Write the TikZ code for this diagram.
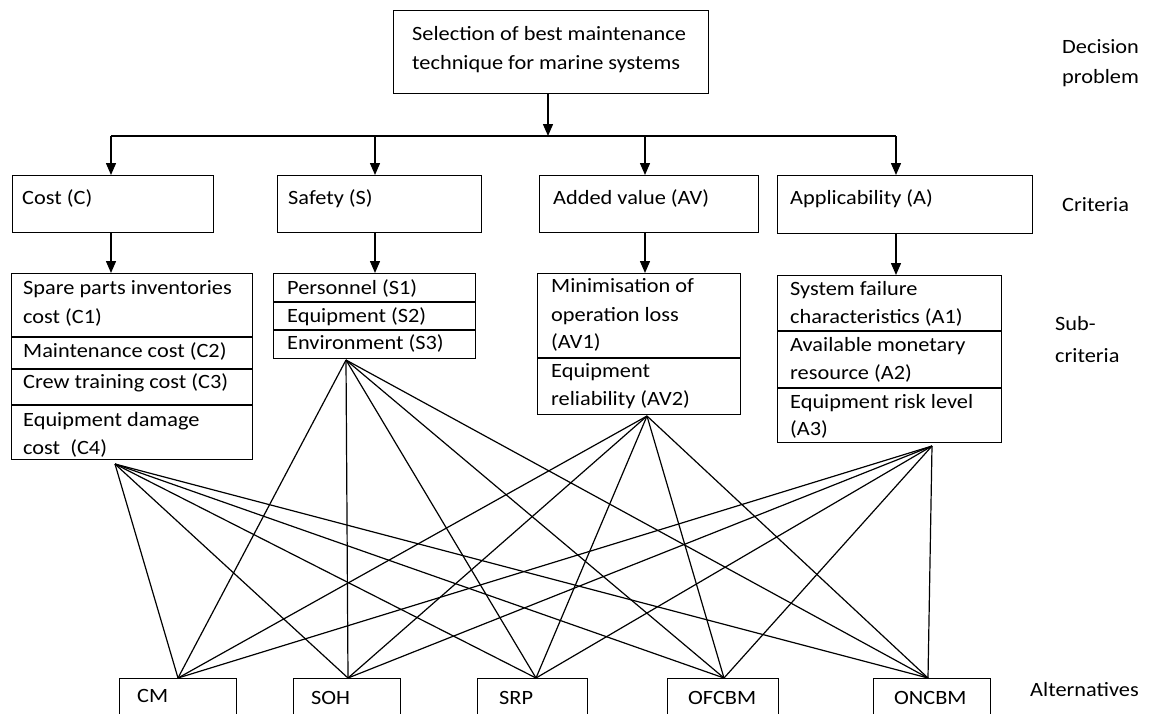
\documentclass[tikz,border=0pt]{standalone}
\usepackage{fontspec}
\setmainfont{Carlito}[FakeStretch=1.1]
\usetikzlibrary{arrows.meta,calc}
\tikzset{
  box/.style={draw=black, line width=1.4pt, fill=none, inner sep=0pt, anchor=north west},
  txt/.style={anchor=base west, inner sep=0pt, font=\fontsize{20.3}{29}\selectfont},
  arr/.style={draw=black, line width=1.4pt, -{Triangle[width=10pt,length=12pt]}},
  link/.style={draw=black, line width=1.2pt},
  div/.style={draw=black, line width=1.4pt}
}
\begin{document}
\begin{tikzpicture}[x=1pt,y=-1pt]
\useasboundingbox (0,0) rectangle (1170,713);
\clip (0,0) rectangle (1170,713);
% ---------- top ----------
\node[box, minimum width=315pt, minimum height=83pt] (top) at (393,10) {};
\node[txt] (t1) at (412,40) {Selection of best maintenance};
\node[txt] (t2) at (412,69) {technique for marine systems};
% ---------- criteria ----------
\node[box, minimum width=201pt, minimum height=57pt] (cost) at (12,175) {};
\node[box, minimum width=204pt, minimum height=57pt] (safe) at (277,175) {};
\node[box, minimum width=219pt, minimum height=57pt] (addv) at (539,175) {};
\node[box, minimum width=255pt, minimum height=58pt] (appl) at (777,175) {};
\node[txt] (costT) at (22,204) {Cost (C)};
\node[txt] (safeT) at (288,204) {Safety (S)};
\node[txt] (addvT) at (553,204) {Added value (AV)};
\node[txt] (applT) at (790,204) {Applicability (A)};
% junctions
\coordinate (j0) at (548,136);
\coordinate (jC) at (111,136);
\coordinate (jS) at (375,136);
\coordinate (jV) at (645,136);
\coordinate (jA) at (896,136);
\draw[arr] (top.south -| j0) -- (j0);
\draw[link, line width=1.4pt] (jC) -- (jA);
\draw[arr] (jC) -- (jC |- cost.north);
\draw[arr] (jS) -- (jS |- safe.north);
\draw[arr] (jV) -- (jV |- addv.north);
\draw[arr] (jA) -- (jA |- appl.north);
% ---------- sub-criteria ----------
\node[box, minimum width=241pt, minimum height=186pt] (costS) at (11,273) {};
\draw[div] (11,337) -- (252,337);
\draw[div] (11,369) -- (252,369);
\draw[div] (11,405) -- (252,405);
\node[box, minimum width=202pt, minimum height=85pt] (safeS) at (273,273) {};
\draw[div] (273,302) -- (475,302);
\draw[div] (273,330) -- (475,330);
\node[box, minimum width=203pt, minimum height=141pt] (addvS) at (537,273) {};
\draw[div] (537,358) -- (740,358);
\node[box, minimum width=224pt, minimum height=167pt] (applS) at (777,275) {};
\draw[div] (777,331) -- (1001,331);
\draw[div] (777,388) -- (1001,388);
\draw[arr] (cost.south -| jC) -- (costS.north -| jC);
\draw[arr] (safe.south -| jS) -- (safeS.north -| jS);
\draw[arr] (addv.south -| jV) -- (addvS.north -| jV);
\draw[arr] (appl.south -| jA) -- (applS.north -| jA);
% texts
\node[txt] (c1a) at (23,294) {Spare parts inventories};
\node[txt] (c1b) at (23,323) {cost (C1)};
\node[txt] (c2) at (23,357) {Maintenance cost (C2)};
\node[txt] (c3) at (23,388) {Crew training cost (C3)};
\node[txt] (c4a) at (23,426) {Equipment damage};
\node[txt] (c4b) at (23,454) {cost\ \ (C4)};
\node[txt] (s1) at (287,294) {Personnel (S1)};
\node[txt] (s2) at (287,322) {Equipment (S2)};
\node[txt] (s3) at (287,349) {Environment (S3)};
\node[txt] (v1a) at (551,292) {Minimisation of};
\node[txt] (v1b) at (551,321) {operation loss};
\node[txt] (v1c) at (551,348) {(AV1)};
\node[txt] (v2a) at (551,377) {Equipment};
\node[txt] (v2b) at (551,405) {reliability (AV2)};
\node[txt] (a1a) at (790,295) {System failure};
\node[txt] (a1b) at (790,323) {characteristics (A1)};
\node[txt] (a2a) at (790,351) {Available monetary};
\node[txt] (a2b) at (790,379) {resource (A2)};
\node[txt] (a3a) at (790,408) {Equipment risk level};
\node[txt] (a3b) at (790,435) {(A3)};
% convergence points
\coordinate (pC) at (115,464);
\coordinate (pS) at (346,360);
\coordinate (pV) at (647,416);
\coordinate (pA) at (932,446);
% ---------- alternatives ----------
\node[box, minimum width=117pt, minimum height=60pt] (cm) at (119,678) {};
\node[box, minimum width=107pt, minimum height=60pt] (soh) at (293,678) {};
\node[box, minimum width=110pt, minimum height=60pt] (srp) at (477,678) {};
\node[box, minimum width=111pt, minimum height=60pt] (ofc) at (667,678) {};
\node[box, minimum width=117pt, minimum height=60pt] (onc) at (873,678) {};
\node[txt] (cmT) at (137,702) {CM};
\node[txt] (sohT) at (311,704) {SOH};
\node[txt] (srpT) at (499,704) {SRP};
\node[txt] (ofcT) at (688,704) {OFCBM};
\node[txt] (oncT) at (894,704) {ONCBM};
\coordinate (qCM) at (178,678);
\coordinate (qSOH) at (348,678);
\coordinate (qSRP) at (536,678);
\coordinate (qOFC) at (724,678);
\coordinate (qONC) at (928,678);
\foreach \p in {pC,pS,pV,pA}{
  \foreach \q in {qCM,qSOH,qSRP,qOFC,qONC}{
    \draw[link] (\p) -- (\q);
  }
}
% ---------- level labels ----------
\node[txt] (L1a) at (1062,53) {Decision};
\node[txt] (L1b) at (1062,83) {problem};
\node[txt] (L2) at (1062,211) {Criteria};
\node[txt] (L3a) at (1055,330) {Sub-};
\node[txt] (L3b) at (1055,362) {criteria};
\node[txt] (L4) at (1030,696) {Alternatives};
\end{tikzpicture}
\end{document}
